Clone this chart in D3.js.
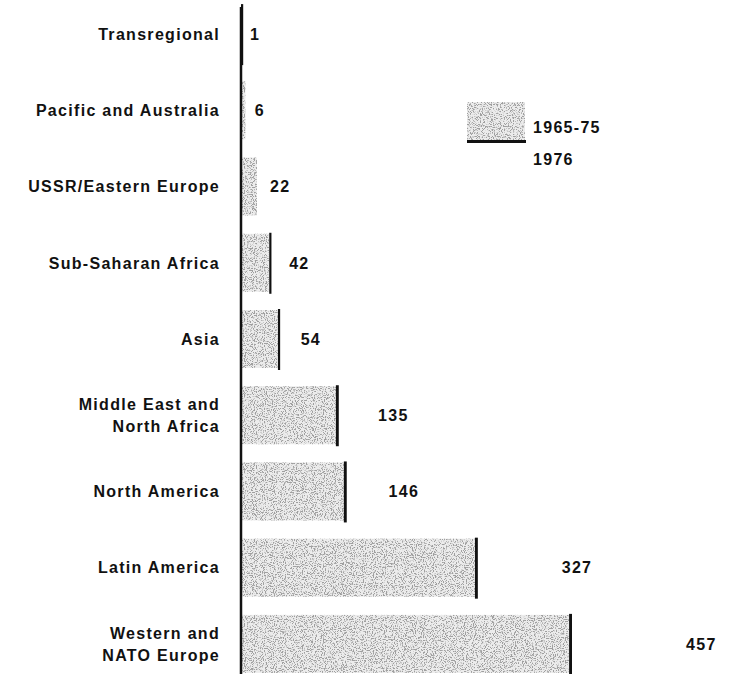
<!DOCTYPE html>
<html>
<head>
<meta charset="utf-8">
<script src="https://cdn.jsdelivr.net/npm/d3@7"></script>
<style>
body { margin: 0; background: #fff; }
text { font-family: "Liberation Sans", Arial, sans-serif; font-weight: bold; font-size: 16px; letter-spacing: 1.3px; fill: #111; }
</style>
</head>
<body>
<div id="chart"></div>
<script>
var width = 736, height = 674;

// regions, top to bottom (\n = line break in the label)
var regions = ["Transregional", "Pacific and Australia", "USSR/Eastern Europe", "Sub-Saharan Africa", "Asia",
    "Middle East and\nNorth Africa", "North America", "Latin America", "Western and\nNATO Europe"];
// incidents 1965-75 (stippled) and added in 1976 (black end line)
var events6575 = [0, 6, 22, 39, 51, 131, 142, 323, 453];
var events1976 = [1, 0, 0, 3, 3, 4, 4, 4, 4];
var totals = [1, 6, 22, 42, 54, 135, 146, 327, 457];
var legendLabels = ["1965-75", "1976"];

var data = regions.map(function (r, i) {
    return { name: r, a: events6575[i], b: events1976[i], total: totals[i] };
});

var svg = d3.select("#chart")
    .append("svg")
    .attr("width", width)
    .attr("height", height);

// stipple texture for the 1965-75 part
var defs = svg.append("defs");
var f = defs.append("filter").attr("id", "stipple")
    .attr("x", 0).attr("y", 0).attr("width", 1).attr("height", 1);
f.append("feTurbulence").attr("type", "fractalNoise").attr("baseFrequency", 0.9)
    .attr("numOctaves", 3).attr("seed", 7).attr("result", "noise");
f.append("feColorMatrix").attr("in", "noise").attr("type", "matrix")
    .attr("values", "0 0 0 0 0.35  0 0 0 0 0.35  0 0 0 0 0.35  0 0 0 7 -3.5")
    .attr("result", "dots");
f.append("feComposite").attr("in", "dots").attr("in2", "SourceAlpha")
    .attr("operator", "in").attr("result", "clipped");
var merge = f.append("feMerge");
merge.append("feMergeNode").attr("in", "SourceGraphic");
merge.append("feMergeNode").attr("in", "clipped");

var y = d3.scaleBand()
    .domain(d3.range(regions.length))
    .range([-4, 682]);
var barH = 58;

var x = d3.scaleLinear().domain([0, 457]).range([241, 572]);
// value labels sit on their own (wider) scale, as in the original
var xLabel = d3.scaleLinear().domain([0, 457]).range([249, 686]);

var rows = svg.selectAll("g.row")
    .data(data)
    .enter()
    .append("g")
    .attr("class", "row")
    .attr("transform", function (d, i) { return "translate(0," + (y(i) + y.bandwidth() / 2) + ")"; });

rows.append("rect")
    .attr("x", x(0))
    .attr("y", -barH / 2)
    .attr("width", function (d) { return x(d.a) - x(0); })
    .attr("height", barH)
    .attr("fill", "#ececec")
    .attr("filter", "url(#stipple)");

rows.filter(function (d) { return d.b > 0; })
    .append("rect")
    .attr("x", function (d) { return x(d.a); })
    .attr("y", -barH / 2 - 1)
    .attr("width", function (d) { return Math.max(2.2, x(d.a + d.b) - x(d.a)); })
    .attr("height", barH + 3)
    .attr("fill", "#111");

// region names
rows.append("text")
    .attr("x", 220)
    .attr("text-anchor", "end")
    .each(function (d) {
        var lines = d.name.split("\n");
        var t = d3.select(this);
        lines.forEach(function (l, k) {
            t.append("tspan")
                .attr("x", 220)
                .attr("y", (k - (lines.length - 1) / 2) * 22)
                .attr("dy", "0.36em")
                .text(l);
        });
    });

// totals
rows.append("text")
    .attr("x", function (d) { return xLabel(d.total); })
    .attr("dy", "0.36em")
    .text(function (d) { return d.total; });

// axis line
svg.append("line")
    .attr("x1", x(0)).attr("x2", x(0))
    .attr("y1", 7).attr("y2", 677)
    .attr("stroke", "#111")
    .attr("stroke-width", 2.5);

// legend
var lg = svg.append("g").attr("transform", "translate(467,102)");
lg.append("rect")
    .attr("width", 58).attr("height", 38)
    .attr("fill", "#ececec")
    .attr("filter", "url(#stipple)");
lg.append("rect")
    .attr("y", 38).attr("width", 59).attr("height", 3)
    .attr("fill", "#111");
lg.append("text").attr("x", 66).attr("y", 25).attr("dy", "0.36em").text(legendLabels[0]);
lg.append("text").attr("x", 66).attr("y", 57).attr("dy", "0.36em").text(legendLabels[1]);
</script>
</body>
</html>
